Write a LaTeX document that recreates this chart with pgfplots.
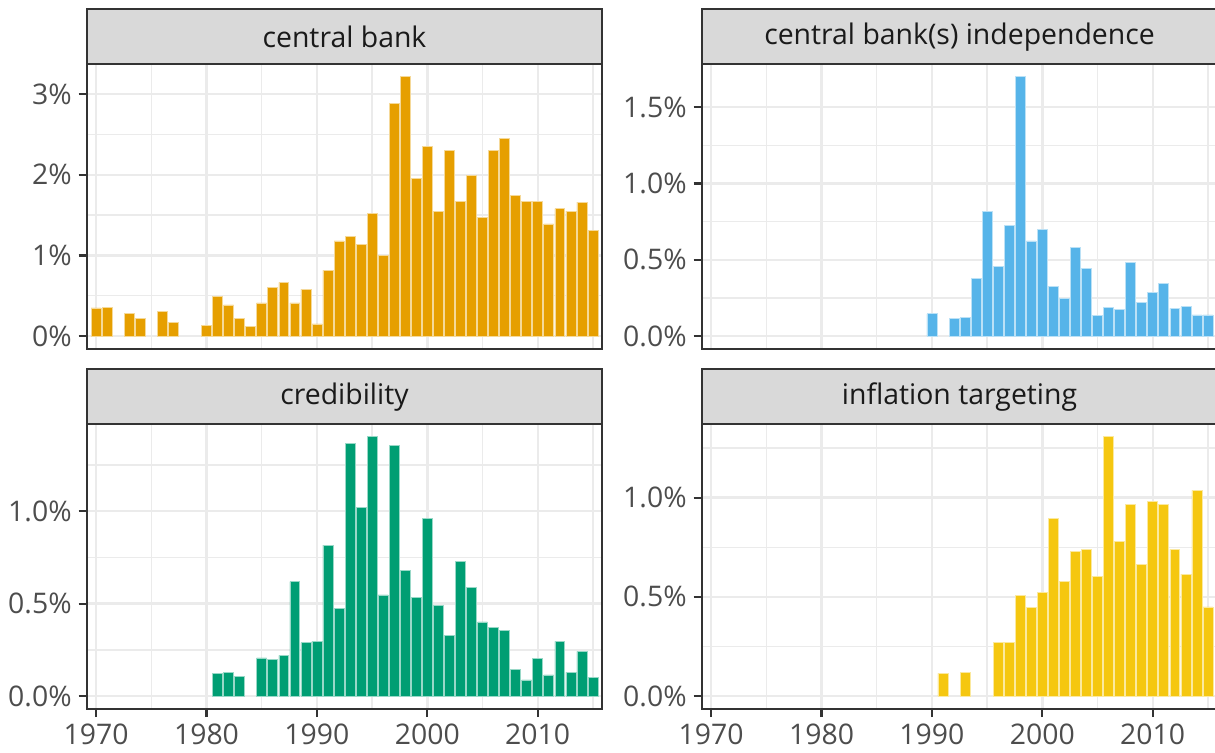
\documentclass[border=0pt]{standalone}
\usepackage{fontspec}
\setmainfont{Open Sans}
\usepackage{pgfplots}
\pgfplotsset{compat=1.18}
\definecolor{cbOrange}{HTML}{E69F00}
\definecolor{cbBlue}{HTML}{56B4E9}
\definecolor{cbGreen}{HTML}{009E73}
\definecolor{cbYellow}{HTML}{F5C710}
\definecolor{gridc}{HTML}{EBEBEB}
\definecolor{g20}{HTML}{333333}
\definecolor{g30}{HTML}{4D4D4D}
\definecolor{g85}{HTML}{D9D9D9}
\definecolor{g10}{HTML}{1A1A1A}
\pgfplotsset{
  facet/.style={
    scale only axis, width=257.8pt, height=142.7pt,
    xmin=1969.15, xmax=2015.85,
    axis line style={g20, line width=1pt},
    tick pos=left, tick align=outside,
    major tick length=4pt, minor tick length=0pt,
    tick style={g20, line width=1.1pt},
    grid=both,
    major grid style={gridc, line width=1.2pt},
    minor grid style={gridc, line width=0.7pt},
    xtick={1970,1980,1990,2000,2010},
    minor xtick={1975,1985,1995,2005,2015},
    ticklabel style={font=\fontsize{14.2}{16}\selectfont, text=g30},
    ybar, bar width=0.9,
  },
  bottomx/.style={xticklabel={\pgfmathprintnumber[1000 sep={},assume math mode=true]{\tick}}},
  topx/.style={xticklabels={}, xtick style={draw=none}},
  pct/.style={yticklabel={\pgfmathprintnumber[assume math mode=true,fixed,fixed zerofill,precision=#1]{\tick}\%}},
  bars/.style={fill=#1, draw=white!60!#1, line width=0.3pt},
}
\newcommand{\strip}[2]{%
  \draw[fill=g85, draw=g20, line width=1pt] (#1.north west) rectangle ([yshift=27.5pt]#1.north east);
  \node[font=\fontsize{14.2}{16}\selectfont, text=g10] at ([yshift=13.2pt]#1.north) {#2};
}
\begin{document}
\begin{tikzpicture}
\useasboundingbox (0,0) rectangle (607.5pt,376pt);
% panel 1
\begin{axis}[facet, topx, name=p1, at={(43.35pt,201.5pt)}, anchor=south west,
  ymin=-0.161, ymax=3.38, ytick={0,1,2,3}, minor ytick={0.5,1.5,2.5}, pct=0]
\addplot[bars=cbOrange] coordinates {
(1970,0.35) (1971,0.36) (1973,0.285) (1974,0.22) (1976,0.31) (1977,0.165)
(1980,0.13) (1981,0.49) (1982,0.385) (1983,0.22) (1984,0.115) (1985,0.41)
(1986,0.60) (1987,0.665) (1988,0.41) (1989,0.58) (1990,0.15) (1991,0.815)
(1992,1.18) (1993,1.235) (1994,1.14) (1995,1.52) (1996,1.00) (1997,2.89)
(1998,3.22) (1999,1.96) (2000,2.355) (2001,1.545) (2002,2.30) (2003,1.67)
(2004,1.995) (2005,1.47) (2006,2.30) (2007,2.45) (2008,1.74) (2009,1.67)
(2010,1.67) (2011,1.39) (2012,1.58) (2013,1.55) (2014,1.66) (2015,1.31)};
\end{axis}
\strip{p1}{central bank}
% panel 2
\begin{axis}[facet, topx, name=p2, at={(350.85pt,201.5pt)}, anchor=south west,
  ymin=-0.085, ymax=1.786, ytick={0,0.5,1,1.5}, minor ytick={0.25,0.75,1.25}, pct=1]
\addplot[bars=cbBlue] coordinates {
(1990,0.146) (1992,0.116) (1993,0.124) (1994,0.38) (1995,0.817) (1996,0.454)
(1997,0.725) (1998,1.701) (1999,0.624) (2000,0.699) (2001,0.323) (2002,0.247)
(2003,0.583) (2004,0.441) (2005,0.133) (2006,0.186) (2007,0.177) (2008,0.485)
(2009,0.22) (2010,0.284) (2011,0.345) (2012,0.181) (2013,0.192) (2014,0.138)
(2015,0.138)};
\end{axis}
\strip{p2}{central bank(s) independence}
% panel 3
\begin{axis}[facet, bottomx, name=p3, at={(43.35pt,21.5pt)}, anchor=south west,
  ymin=-0.070, ymax=1.474, ytick={0,0.5,1}, minor ytick={0.25,0.75,1.25}, pct=1]
\addplot[bars=cbGreen] coordinates {
(1981,0.123) (1982,0.126) (1983,0.108) (1985,0.206) (1986,0.199) (1987,0.220)
(1988,0.619) (1989,0.289) (1990,0.296) (1991,0.816) (1992,0.475) (1993,1.368)
(1994,1.02) (1995,1.404) (1996,0.547) (1997,1.357) (1998,0.681) (1999,0.532)
(2000,0.962) (2001,0.489) (2002,0.329) (2003,0.729) (2004,0.590) (2005,0.401)
(2006,0.372) (2007,0.357) (2008,0.143) (2009,0.088) (2010,0.204) (2011,0.114)
(2012,0.296) (2013,0.128) (2014,0.242) (2015,0.103)};
\end{axis}
\strip{p3}{credibility}
% panel 4
\begin{axis}[facet, bottomx, name=p4, at={(350.85pt,21.5pt)}, anchor=south west,
  ymin=-0.065, ymax=1.373, ytick={0,0.5,1}, minor ytick={0.25,0.75,1.25}, pct=1]
\addplot[bars=cbYellow] coordinates {
(1991,0.114) (1993,0.121) (1996,0.272) (1997,0.269) (1998,0.509) (1999,0.447)
(2000,0.523) (2001,0.897) (2002,0.576) (2003,0.729) (2004,0.739) (2005,0.603)
(2006,1.308) (2007,0.780) (2008,0.966) (2009,0.664) (2010,0.983) (2011,0.966)
(2012,0.739) (2013,0.615) (2014,1.037) (2015,0.449)};
\end{axis}
\strip{p4}{inflation targeting}
\end{tikzpicture}
\end{document}
